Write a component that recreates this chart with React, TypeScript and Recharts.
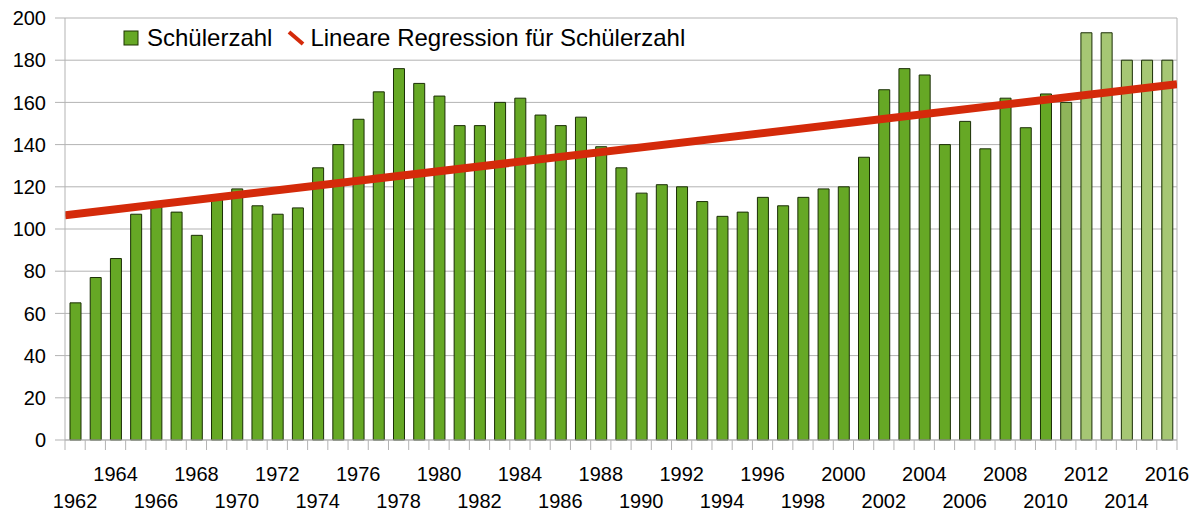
import React from "react";
import {
  ComposedChart,
  Bar,
  Line,
  Cell,
  XAxis,
  YAxis,
  CartesianGrid,
  ReferenceLine,
} from "recharts";

const years = [
  "1962", "1963", "1964", "1965", "1966", "1967", "1968", "1969", "1970", "1971",
  "1972", "1973", "1974", "1975", "1976", "1977", "1978", "1979", "1980", "1981",
  "1982", "1983", "1984", "1985", "1986", "1987", "1988", "1989", "1990", "1991",
  "1992", "1993", "1994", "1995", "1996", "1997", "1998", "1999", "2000", "2001",
  "2002", "2003", "2004", "2005", "2006", "2007", "2008", "2009", "2010", "2011",
  "2012", "2013", "2014", "2015", "2016",
];

const schueler = [
  65, 77, 86, 107, 111, 108, 97, 114, 119, 111,
  107, 110, 129, 140, 152, 165, 176, 169, 163, 149,
  149, 160, 162, 154, 149, 153, 139, 129, 117, 121,
  120, 113, 106, 108, 115, 111, 115, 119, 120, 134,
  166, 176, 173, 140, 151, 138, 162, 148, 164, 160,
  193, 193, 180, 180, 180,
];

// Trendlinie: Werte am linken und rechten Rand der Zeichenfläche
const trendPos = [0, 55];
const trendVal = [106.5, 168.6];

const yTicks = [0, 20, 40, 60, 80, 100, 120, 140, 160, 180, 200];

const data = years.map((y, i) => ({ year: y, value: schueler[i] }));
const trendData = trendPos.map((x, i) => ({ x, trend: trendVal[i] }));

const GREEN = "#66a825";
const GREEN_MID = "#8fb55a";
const GREEN_LIGHT = "#a6c774";
const RED = "#d42a0a";
const GRID = "#b3b3b3";
const FONT = "'Liberation Sans', Arial, sans-serif";

function barColor(year: string) {
  const y = Number(year);
  if (y >= 2012) return GREEN_LIGHT;
  if (y === 2011) return GREEN_MID;
  return GREEN;
}

function YearTick(props: any) {
  const { x, y, payload, index, visibleTicksCount } = props;
  const band = 1112 / years.length;
  const yr = Number(payload.value);
  const left = x - band / 2;
  const right = x + band / 2;
  return (
    <g>
      <line x1={left} x2={left} y1={y - 10} y2={y} stroke={GRID} />
      {index === (visibleTicksCount ?? years.length) - 1 && (
        <line x1={right} x2={right} y1={y - 10} y2={y} stroke={GRID} />
      )}
      {yr % 2 === 0 && (
        <text
          x={x}
          y={yr % 4 === 0 ? y + 31 : y + 58}
          textAnchor="middle"
          fontSize={20}
          fontFamily={FONT}
          fill="#000"
        >
          {payload.value}
        </text>
      )}
    </g>
  );
}

function LegendBox() {
  return (
    <div
      style={{
        position: "absolute",
        left: 123,
        top: 24,
        display: "flex",
        alignItems: "center",
        fontFamily: FONT,
        fontSize: 24,
        lineHeight: "28px",
        color: "#000",
        pointerEvents: "none",
      }}
    >
      <svg width={16} height={16} style={{ marginRight: 8 }}>
        <rect x={1} y={1} width={14} height={14} fill={GREEN} stroke="#1c3300" strokeWidth={1} />
      </svg>
      <span style={{ marginRight: 15 }}>Schülerzahl</span>
      <svg width={18} height={16} style={{ marginRight: 5 }}>
        <line x1={2} y1={2} x2={16} y2={14} stroke={RED} strokeWidth={4} />
      </svg>
      <span>Lineare Regression für Schülerzahl</span>
    </div>
  );
}

export default function App() {
  return (
    <div style={{ position: "absolute", left: 0, top: 0, width: 1200, height: 514, background: "#fff" }}>
      <ComposedChart
        width={1200}
        height={514}
        data={data}
        margin={{ top: 18, right: 23, left: 0, bottom: 0 }}
      >
        <CartesianGrid vertical={false} stroke={GRID} />
        <XAxis
          dataKey="year"
          interval={0}
          height={74}
          tickSize={10}
          tickLine={false}
          tickMargin={0}
          axisLine={{ stroke: GRID }}
          tick={<YearTick />}
        />
        <XAxis xAxisId="trend" type="number" dataKey="x" domain={[0, 55]} hide allowDataOverflow />
        <YAxis
          width={65}
          domain={[0, 200]}
          ticks={yTicks}
          tickSize={10}
          tickMargin={9}
          interval={0}
          axisLine={{ stroke: GRID }}
          tickLine={{ stroke: GRID }}
          tick={{ fontSize: 20, fontFamily: FONT, fill: "#000" }}
        />
        <ReferenceLine xAxisId="trend" x={55} stroke={GRID} />
        <Bar dataKey="value" barSize={11} stroke="#1a2e05" strokeWidth={1} isAnimationActive={false}>
          {data.map((d) => (
            <Cell key={d.year} fill={barColor(d.year)} />
          ))}
        </Bar>
        <Line
          xAxisId="trend"
          data={trendData}
          dataKey="trend"
          stroke={RED}
          strokeWidth={8}
          dot={false}
          activeDot={false}
          isAnimationActive={false}
          legendType="none"
        />
      </ComposedChart>
      <LegendBox />
    </div>
  );
}
